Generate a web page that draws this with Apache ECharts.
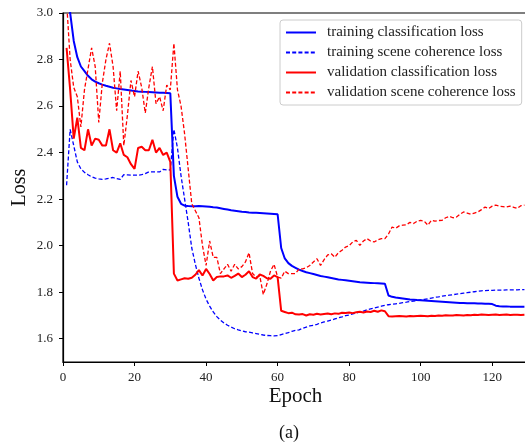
<!DOCTYPE html>
<html>
<head>
<meta charset="utf-8">
<script src="https://cdn.jsdelivr.net/npm/echarts@6/dist/echarts.min.js"></script>
<style>
	html, body { margin: 0; padding: 0; background: #fff; }
	#lossChart { width: 525px; height: 442px; }
</style>
</head>
<body>
<div id="lossChart"></div>
<script>
// epochs 1..129
const epochs = Array.from({ length: 129 }, (_, i) => i + 1)

const trainCls = [
	3.25, 3.00, 2.88, 2.81, 2.77, 2.75, 2.73, 2.715, 2.705, 2.698,
	2.692, 2.687, 2.683, 2.679, 2.676, 2.673, 2.671, 2.669, 2.667, 2.665,
	2.663, 2.662, 2.661, 2.660, 2.659, 2.658, 2.657, 2.657, 2.656, 2.655,
	2.30, 2.21, 2.18, 2.172, 2.170, 2.169, 2.169, 2.170, 2.169, 2.168,
	2.167, 2.165, 2.164, 2.161, 2.158, 2.155, 2.152, 2.150, 2.148, 2.146,
	2.145, 2.143, 2.142, 2.141, 2.140, 2.139, 2.138, 2.137, 2.136, 2.135,
	1.99, 1.945, 1.925, 1.913, 1.905, 1.897, 1.891, 1.886, 1.882, 1.878,
	1.874, 1.870, 1.867, 1.864, 1.861, 1.858, 1.855, 1.853, 1.851, 1.849,
	1.847, 1.845, 1.843, 1.842, 1.841, 1.840, 1.839, 1.838, 1.837, 1.836,
	1.786, 1.780, 1.777, 1.775, 1.773, 1.771, 1.769, 1.768, 1.766, 1.765,
	1.764, 1.763, 1.762, 1.761, 1.760, 1.759, 1.758, 1.757, 1.756, 1.755,
	1.754, 1.754, 1.753, 1.752, 1.752, 1.751, 1.751, 1.750, 1.750, 1.749,
	1.742, 1.740, 1.739, 1.739, 1.738, 1.738, 1.738, 1.737, 1.737
]

const trainScene = [
	2.26, 2.50, 2.43, 2.36, 2.33, 2.315, 2.305, 2.296, 2.29, 2.287,
	2.285, 2.287, 2.29, 2.293, 2.288, 2.285, 2.305, 2.304, 2.303, 2.303,
	2.303, 2.305, 2.31, 2.317, 2.317, 2.317, 2.317, 2.328, 2.326, 2.325,
	2.50, 2.42, 2.30, 2.20, 2.10, 1.99, 1.92, 1.86, 1.81, 1.77,
	1.74, 1.715, 1.695, 1.68, 1.668, 1.658, 1.65, 1.643, 1.638, 1.634,
	1.630, 1.628, 1.625, 1.622, 1.619, 1.616, 1.614, 1.613, 1.612, 1.613,
	1.618, 1.622, 1.626, 1.632, 1.636, 1.638, 1.645, 1.650, 1.655, 1.658,
	1.662, 1.668, 1.672, 1.676, 1.680, 1.685, 1.690, 1.694, 1.699, 1.702,
	1.707, 1.711, 1.715, 1.719, 1.724, 1.728, 1.732, 1.736, 1.740, 1.744,
	1.746, 1.748, 1.750, 1.752, 1.755, 1.757, 1.760, 1.762, 1.764, 1.767,
	1.769, 1.772, 1.775, 1.778, 1.780, 1.783, 1.785, 1.787, 1.789, 1.792,
	1.794, 1.796, 1.798, 1.800, 1.802, 1.804, 1.806, 1.807, 1.808, 1.808,
	1.809, 1.809, 1.809, 1.810, 1.810, 1.810, 1.810, 1.811, 1.811
]

const valCls = [
	2.85, 2.67, 2.46, 2.55, 2.42, 2.41, 2.50, 2.43, 2.46, 2.455,
	2.43, 2.43, 2.50, 2.41, 2.40, 2.44, 2.39, 2.38, 2.35, 2.33,
	2.42, 2.425, 2.41, 2.41, 2.455, 2.40, 2.42, 2.39, 2.40, 2.36,
	1.88, 1.85, 1.855, 1.86, 1.858, 1.862, 1.875, 1.895, 1.872, 1.90,
	1.878, 1.85, 1.865, 1.868, 1.868, 1.872, 1.862, 1.87, 1.88, 1.865,
	1.875, 1.89, 1.865, 1.858, 1.876, 1.87, 1.86, 1.858, 1.872, 1.865,
	1.72, 1.715, 1.71, 1.712, 1.705, 1.704, 1.706, 1.70, 1.705, 1.703,
	1.707, 1.704, 1.706, 1.708, 1.705, 1.709, 1.707, 1.712, 1.711, 1.713,
	1.710, 1.714, 1.716, 1.713, 1.717, 1.715, 1.72, 1.716, 1.722, 1.718,
	1.697, 1.696, 1.697, 1.698, 1.697, 1.696, 1.698, 1.697, 1.698, 1.699,
	1.698, 1.697, 1.699, 1.698, 1.700, 1.699, 1.701, 1.700, 1.700, 1.702,
	1.701, 1.700, 1.702, 1.701, 1.703, 1.702, 1.704, 1.703, 1.702, 1.703,
	1.704, 1.702, 1.703, 1.704, 1.702, 1.703, 1.703, 1.702, 1.703
]

const valScene = [
	3.05, 2.80, 2.68, 2.64, 2.51, 2.67, 2.76, 2.85, 2.77, 2.53,
	2.70, 2.80, 2.87, 2.77, 2.58, 2.75, 2.43, 2.56, 2.71, 2.64,
	2.75, 2.68, 2.57, 2.68, 2.77, 2.61, 2.64, 2.58, 2.69, 2.67,
	2.87, 2.67, 2.60, 2.48, 2.33, 2.18, 2.15, 2.12, 2.00, 1.915,
	2.02, 1.95, 1.95, 1.88, 1.90, 1.92, 1.89, 1.92, 1.90, 1.91,
	1.93, 1.97, 1.88, 1.865, 1.87, 1.79, 1.835, 1.89, 1.92, 1.865,
	1.86, 1.89, 1.88, 1.88, 1.88, 1.90, 1.90, 1.905, 1.915, 1.93,
	1.944, 1.915, 1.94, 1.96, 1.965, 1.95, 1.97, 1.98, 1.994, 2.00,
	2.016, 2.023, 2.001, 2.02, 2.03, 2.02, 2.016, 2.025, 2.03, 2.03,
	2.05, 2.08, 2.075, 2.085, 2.088, 2.09, 2.10, 2.095, 2.105, 2.109,
	2.105, 2.088, 2.109, 2.105, 2.108, 2.109, 2.12, 2.126, 2.12, 2.123,
	2.135, 2.145, 2.14, 2.135, 2.14, 2.145, 2.155, 2.166, 2.16, 2.17,
	2.174, 2.17, 2.168, 2.166, 2.17, 2.165, 2.16, 2.172, 2.174
]

const xTicks = [0, 20, 40, 60, 80, 100, 120]
const yTicks = [1.6, 1.8, 2.0, 2.2, 2.4, 2.6, 2.8, 3.0]

const seriesNames = [
	'training classification loss',
	'training scene coherence loss',
	'validation classification loss',
	'validation scene coherence loss'
]

const serif = 'Liberation Serif'

const pairs = (vals) => epochs.map((e, i) => [e, vals[i]])

const makeLine = (name, vals, color, dashed) => ({
	name,
	type: 'line',
	data: pairs(vals),
	symbol: 'none',
	showSymbol: false,
	clip: true,
	itemStyle: { color },
	lineStyle: dashed
		? { color, width: 1.3, type: [4, 2.2] }
		: { color, width: 2 }
})

const initChart = () => {
	const chartDom = document.getElementById('lossChart')
	const myChart = echarts.init(chartDom, null, { renderer: 'canvas' })
	const axisText = { color: '#222', fontFamily: serif, fontSize: 13 }
	const options = {
		animation: false,
		backgroundColor: '#fff',
		grid: {
			left: 63,
			top: 13,
			right: -3,
			bottom: 80,
			outerBoundsMode: 'none',
			containLabel: false,
			show: true,
			borderColor: '#000',
			borderWidth: 1.2,
			backgroundColor: 'transparent'
		},
		legend: {
			orient: 'vertical',
			left: 280,
			top: 20,
			padding: [5, 6, 5, 5],
			itemWidth: 30,
			itemHeight: 12,
			itemGap: 5,
			borderColor: '#ccc',
			borderWidth: 1,
			borderRadius: 3,
			backgroundColor: 'rgba(255,255,255,0.8)',
			itemStyle: { opacity: 0, borderWidth: 0 },
			data: seriesNames,
			textStyle: {
				color: '#222',
				fontFamily: serif,
				fontSize: 15,
				padding: [0, 0, 0, 6]
			}
		},
		xAxis: {
			type: 'value',
			min: 0,
			max: 130,
			name: 'Epoch',
			nameLocation: 'middle',
			nameGap: 24,
			nameMoveOverlap: false,
			nameTextStyle: { color: '#111', fontFamily: serif, fontSize: 21 },
			axisLine: { show: true, lineStyle: { color: '#000', width: 1.2 } },
			axisTick: { show: true, length: 4, customValues: xTicks, lineStyle: { color: '#000' } },
			axisLabel: { ...axisText, margin: 9, customValues: xTicks },
			splitLine: { show: false }
		},
		yAxis: {
			type: 'value',
			min: 1.5,
			max: 3.0,
			name: 'Loss',
			nameLocation: 'middle',
			nameGap: 33,
			nameMoveOverlap: false,
			nameTextStyle: { color: '#111', fontFamily: serif, fontSize: 20 },
			axisLine: { show: true, lineStyle: { color: '#000', width: 1.2 } },
			axisTick: { show: true, length: 4, customValues: yTicks, lineStyle: { color: '#000' } },
			axisLabel: {
				...axisText,
				margin: 10,
				customValues: yTicks,
				formatter: (v) => v.toFixed(1)
			},
			splitLine: { show: false }
		},
		graphic: [
			{
				type: 'text',
				left: 279,
				top: 424,
				style: { text: '(a)', fill: '#111', font: '18px "Liberation Serif"' }
			}
		],
		series: [
			makeLine(seriesNames[0], trainCls, '#0000ff', false),
			makeLine(seriesNames[1], trainScene, '#0000ff', true),
			makeLine(seriesNames[2], valCls, '#ff0000', false),
			makeLine(seriesNames[3], valScene, '#ff0000', true)
		]
	}
	myChart.setOption(options)
	return myChart
}

initChart()
</script>
</body>
</html>
